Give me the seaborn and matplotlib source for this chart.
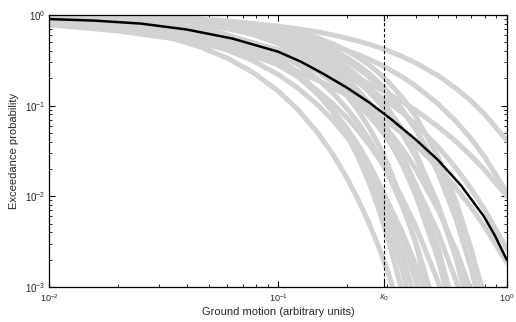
import numpy as np
import pandas as pd
import matplotlib
matplotlib.use("Agg")
import matplotlib.pyplot as plt
import seaborn as sns

# ---------------- data ----------------
x_grid = [0.01, 0.02, 0.035, 0.0458, 0.06, 0.0775, 0.1, 0.1225, 0.15, 0.1732, 0.2,
          0.2236, 0.25, 0.2739, 0.3, 0.35, 0.4, 0.5, 0.6, 0.7, 0.8, 1.0]

curve_a = [0.975, 0.949, 0.910, 0.8824, 0.847, 0.8049, 0.753, 0.7039, 0.648, 0.6034, 0.555, 0.5163, 0.476, 0.4414, 0.407, 0.347, 0.296, 0.215, 0.155, 0.112, 0.0805, 0.0416]
curve_b = [0.956, 0.914, 0.854, 0.8137, 0.763, 0.7057, 0.638, 0.5763, 0.509, 0.4587, 0.407, 0.3656, 0.325, 0.2915, 0.259, 0.207, 0.165, 0.105, 0.0672, 0.0429, 0.0273, 0.0111]
curve_l = [0.859, 0.7214, 0.5459, 0.443, 0.3339, 0.2335, 0.1456, 0.0898, 0.0491, 0.02928, 0.01594, 0.00926, 0.00503, 0.002871, 0.001546, 4.66e-4, 1.38e-4, 1.15e-5, 9.1e-7, 7.0e-8, 5.1e-9, 2.5e-11]
curve_c1 = [0.9665, 0.9081, 0.7999, 0.7159, 0.6058, 0.4791, 0.3402, 0.2317, 0.1379, 0.0856, 0.04736, 0.02721, 0.01408, 0.00753, 0.003686, 8.57e-4, 1.79e-4, 5.8e-6, 1.3e-7, 2.1e-9, 2.5e-11, 1.5e-15]
curve_c2 = [0.9561, 0.8882, 0.7715, 0.6852, 0.5759, 0.4542, 0.3237, 0.2235, 0.1368, 0.08773, 0.05095, 0.03082, 0.01712, 0.00985, 0.005254, 0.001481, 3.88e-4, 2.2e-5, 9.6e-7, 3.4e-8, 1.0e-9, 5.0e-13]
curve_c3 = [0.9418, 0.8627, 0.7365, 0.6480, 0.5399, 0.4234, 0.3021, 0.2104, 0.1316, 0.0868, 0.05246, 0.03311, 0.01945, 0.01184, 0.00679, 0.002241, 7.04e-4, 6.1e-5, 4.6e-6, 3.0e-7, 1.7e-8, 4.2e-11]
curve_c4 = [0.930, 0.8437, 0.7131, 0.6245, 0.5192, 0.4079, 0.2931, 0.2072, 0.1328, 0.08986, 0.0564, 0.03697, 0.02278, 0.01459, 0.00886, 0.0033, 0.001186, 1.42e-4, 1.54e-5, 1.5e-6, 1.4e-7, 1.0e-9]
curve_c5 = [0.870, 0.752, 0.601, 0.5102, 0.4108, 0.3138, 0.2209, 0.1552, 0.1003, 0.06937, 0.0452, 0.03093, 0.0202, 0.01373, 0.00898, 0.00397, 0.001744, 3.35e-4, 6.35e-5, 1.19e-5, 2.2e-6, 7.5e-8]
curve_c6 = [0.950, 0.8829, 0.7749, 0.6976, 0.6015, 0.4941, 0.3762, 0.2815, 0.1934, 0.1387, 0.0931, 0.06469, 0.04251, 0.02875, 0.01852, 0.00776, 0.003131, 4.67e-4, 6.2e-5, 7.5e-6, 8.3e-7, 8.1e-9]
curve_c7 = [0.890, 0.7873, 0.652, 0.5679, 0.4732, 0.377, 0.2804, 0.2082, 0.1442, 0.1055, 0.0735, 0.05333, 0.03722, 0.02685, 0.01876, 0.0094, 0.00469, 0.00116, 2.84e-4, 6.9e-5, 1.65e-5, 9.4e-7]
curve_c8 = [0.970, 0.9248, 0.846, 0.7857, 0.7063, 0.6116, 0.4989, 0.4001, 0.2992, 0.2308, 0.1682, 0.1256, 0.0894, 0.06508, 0.0454, 0.0221, 0.01037, 0.002053, 3.61e-4, 5.7e-5, 8.1e-6, 1.3e-7]
curve_c9 = [0.930, 0.8552, 0.7478, 0.676, 0.590, 0.4966, 0.395, 0.3127, 0.2333, 0.1815, 0.1352, 0.104, 0.07722, 0.0588, 0.04352, 0.02431, 0.01344, 0.00402, 0.001171, 3.33e-4, 9.3e-5, 6.9e-6]
curve_c10 = [0.980, 0.9482, 0.8901, 0.8439, 0.7809, 0.7023, 0.6035, 0.5114, 0.4105, 0.3367, 0.2642, 0.2111, 0.1623, 0.1267, 0.0957, 0.0544, 0.02993, 0.0083, 0.002063, 4.66e-4, 9.7e-5, 3.3e-6]
curve_c11 = [0.920, 0.8421, 0.7349, 0.665, 0.5825, 0.4939, 0.3982, 0.3206, 0.2453, 0.1954, 0.1499, 0.1187, 0.0912, 0.07182, 0.0552, 0.03331, 0.02006, 0.0072, 0.002562, 9.04e-4, 3.17e-4, 3.8e-5]
curve_c12 = [0.985, 0.9602, 0.9138, 0.8761, 0.8233, 0.7559, 0.6685, 0.584, 0.4876, 0.4141, 0.3389, 0.2811, 0.2259, 0.1839, 0.1454, 0.0904, 0.0546, 0.01837, 0.00561, 0.001564, 4.03e-4, 2.2e-5]
curve_c13 = [0.990, 0.9719, 0.9361, 0.9057, 0.862, 0.8041, 0.7261, 0.6479, 0.5551, 0.4816, 0.4037, 0.3422, 0.2814, 0.2336, 0.1886, 0.1222, 0.0765, 0.02746, 0.00885, 0.002577, 6.84e-4, 3.75e-5]
curve_d1 = [0.8328, 0.7428, 0.6441, 0.5879, 0.5265, 0.4644, 0.3996, 0.3475, 0.2958, 0.2599, 0.2254, 0.1997, 0.1752, 0.1562, 0.1382, 0.1103, 0.0889, 0.0590, 0.04017, 0.02784, 0.01961, 0.01008]
curve_d2 = [0.7788, 0.6662, 0.5483, 0.4840, 0.4163, 0.3507, 0.2857, 0.2360, 0.1893, 0.1587, 0.1306, 0.1107, 0.0926, 0.0792, 0.0670, 0.04924, 0.03665, 0.02094, 0.01238, 0.00750, 0.00465, 0.00187]
curve_d3 = [0.8781, 0.7937, 0.6923, 0.6313, 0.5625, 0.4911, 0.4152, 0.3535, 0.2921, 0.2499, 0.2097, 0.1801, 0.1525, 0.1316, 0.1121, 0.0832, 0.0622, 0.03535, 0.02046, 0.01203, 0.00716, 0.00263]
curve_e1 = [0.9774, 0.9373, 0.8609, 0.7991, 0.7144, 0.6103, 0.4850, 0.3749, 0.2647, 0.1922, 0.1292, 0.0891, 0.0573, 0.03768, 0.02331, 0.00875, 0.00306, 3.07e-4, 2.4e-5, 1.5e-6, 7.8e-8, 1.2e-10]
curve_e2 = [0.9757, 0.9370, 0.8673, 0.8126, 0.7387, 0.6484, 0.5384, 0.4393, 0.3355, 0.2629, 0.1951, 0.1480, 0.1072, 0.0791, 0.0560, 0.02796, 0.01342, 0.002756, 4.97e-4, 7.9e-5, 1.14e-5, 1.8e-7]
curve_e3 = [0.9707, 0.9293, 0.8592, 0.8063, 0.7365, 0.6527, 0.5521, 0.4613, 0.3655, 0.2972, 0.2315, 0.1843, 0.1415, 0.1107, 0.0839, 0.04839, 0.02722, 0.0081, 0.002239, 5.78e-4, 1.40e-4, 7.1e-6]
curve_e4 = [0.9763, 0.9427, 0.8850, 0.8409, 0.7818, 0.7094, 0.6199, 0.5365, 0.4448, 0.3766, 0.3080, 0.2563, 0.2072, 0.1700, 0.1360, 0.08735, 0.0550, 0.02073, 0.00737, 0.002474, 7.92e-4, 7.2e-5]

gray_curves = {
    "A": curve_a, "B": curve_b, "L": curve_l,
    "c1": curve_c1, "c2": curve_c2, "c3": curve_c3, "c4": curve_c4,
    "c5": curve_c5, "c6": curve_c6, "c7": curve_c7, "c8": curve_c8,
    "c9": curve_c9, "c10": curve_c10, "c11": curve_c11, "c12": curve_c12,
    "c13": curve_c13, "d1": curve_d1, "d2": curve_d2, "d3": curve_d3,
    "e1": curve_e1, "e2": curve_e2, "e3": curve_e3, "e4": curve_e4,
}

mean_x = [0.01, 0.0158, 0.0251, 0.0398, 0.0631, 0.1, 0.126, 0.158, 0.2, 0.251,
          0.316, 0.398, 0.501, 0.631, 0.794, 0.891, 1.0]
mean_y = [0.902, 0.867, 0.804, 0.692, 0.550, 0.394, 0.305, 0.224, 0.158, 0.108,
          0.0692, 0.0427, 0.0251, 0.0132, 0.00603, 0.00363, 0.00200]

x0 = 0.29
x_tick_values = [0.01, 0.1, x0, 1.0]
x_tick_labels = [r"$10^{-2}$", r"$10^{-1}$", r"$x_0$", r"$10^{0}$"]

x_label = "Ground motion (arbitrary units)"
y_label = "Exceedance probability"

# ---------------- table for seaborn ----------------
rows = []
for name, vals in gray_curves.items():
    for xv, yv in zip(x_grid, vals):
        rows.append((name, xv, yv))
df = pd.DataFrame(rows, columns=["curve", "x", "p"])

# ---------------- style ----------------
sns.set_theme(style="ticks")
plt.rcParams["font.family"] = ["Liberation Sans", "DejaVu Sans"]
plt.rcParams["mathtext.fontset"] = "custom"
plt.rcParams["mathtext.rm"] = "Liberation Sans"
plt.rcParams["mathtext.it"] = "Liberation Sans:italic"
plt.rcParams["axes.edgecolor"] = "black"
plt.rcParams["axes.linewidth"] = 0.9

fig, ax = plt.subplots(figsize=(5.16, 3.22), dpi=100)
fig.subplots_adjust(left=0.0959, right=0.982, bottom=0.1087, top=0.9534)

sns.lineplot(data=df, x="x", y="p", units="curve", estimator=None,
             color="#d2d2d2", lw=3.6, ax=ax, legend=False)
sns.lineplot(x=mean_x, y=mean_y, color="black", lw=1.8, ax=ax, legend=False)
ax.axvline(x0, color="black", lw=0.8, ls=(0, (3, 2)))

ax.set_xscale("log")
ax.set_yscale("log")
ax.set_xlim(0.01, 1.0)
ax.set_ylim(1e-3, 1.0)

ax.set_xticks(x_tick_values)
ax.set_xticklabels(x_tick_labels)

ax.tick_params(which="both", direction="in", top=True, right=True, color="black")
ax.tick_params(which="major", length=4, width=0.8)
ax.tick_params(which="minor", length=2, width=0.6)
ax.tick_params(axis="x", labelsize=6.5, pad=4)
ax.tick_params(axis="y", labelsize=7, pad=3)

ax.set_xlabel(x_label, fontsize=8, labelpad=2)
ax.set_ylabel(y_label, fontsize=8, labelpad=4)

for s in ax.spines.values():
    s.set_color("black")
    s.set_linewidth(0.9)

fig.savefig("out.png", dpi=100)
